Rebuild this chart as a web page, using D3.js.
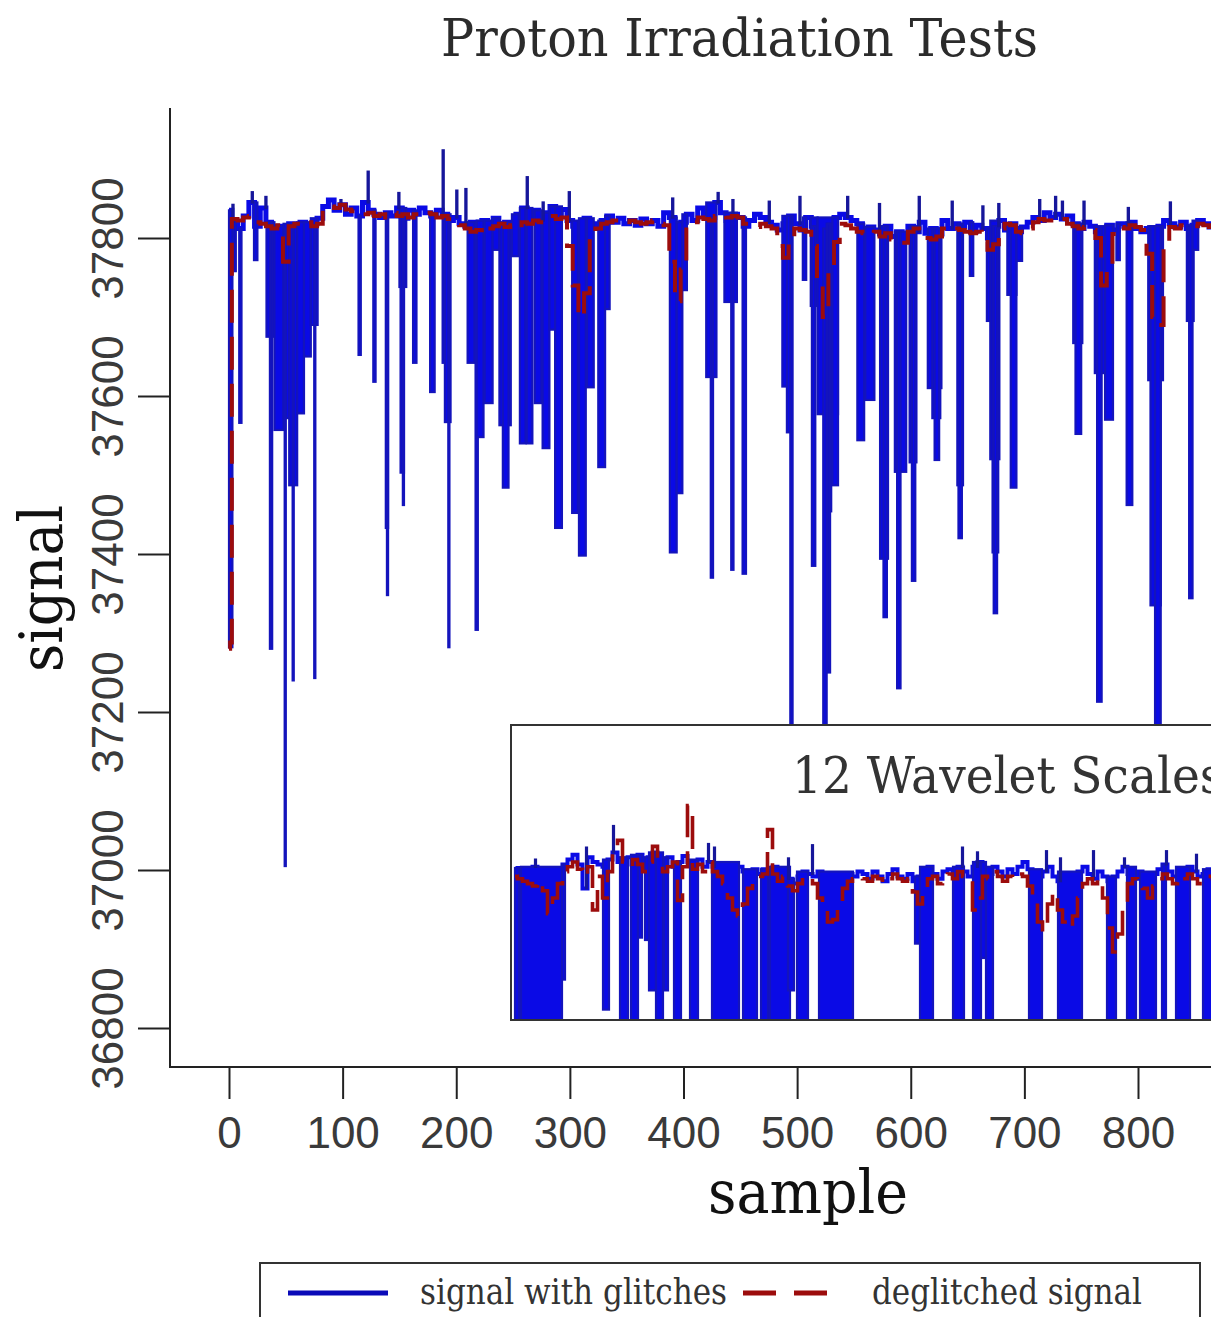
<!DOCTYPE html>
<html><head><meta charset="utf-8">
<script src="https://cdn.jsdelivr.net/npm/d3@7"></script>
<style>body{margin:0;background:#fff}svg{display:block}</style>
</head><body>
<svg id="c" width="1211" height="1317"></svg>
<script>
// ---------------- data ----------------
const xTicks = [0,100,200,300,400,500,600,700,800];
const yTicks = [36800,37000,37200,37400,37600,37800];
const STEP = 5; // samples between consecutive baseline readings

// signal with glitches: quiet level, read every 5 samples (sample 0..870)
const signalBase = [
37835,37820,37812,37828,37845,37815,37838,37820,37810,37815,
37812,37818,37815,37820,37812,37818,37825,37840,37848,37835,
37842,37830,37838,37828,37845,37835,37830,37826,37832,37828,
37838,37825,37835,37830,37838,37832,37828,37835,37830,37822,
37826,37818,37815,37820,37808,37822,37818,37825,37815,37820,
37812,37830,37838,37825,37835,37822,37832,37840,37828,37836,
37822,37815,37810,37825,37818,37812,37822,37828,37820,37825,
37818,37822,37816,37824,37818,37822,37815,37832,37826,37818,
37820,37830,37822,37838,37830,37826,37845,37832,37822,37830,
37826,37815,37822,37830,37826,37820,37816,37810,37818,37828,
37818,37810,37826,37815,37805,37812,37818,37826,37830,37826,
37822,37818,37810,37814,37810,37805,37815,37802,37808,37800,
37815,37808,37820,37806,37812,37805,37822,37812,37818,37814,
37820,37808,37816,37812,37800,37815,37822,37810,37818,37808,
37814,37820,37826,37822,37832,37826,37830,37824,37828,37818,
37812,37820,37815,37808,37812,37816,37810,37818,37815,37820,
37812,37808,37812,37805,37815,37822,37818,37814,37820,37812,
37816,37822,37818,37814,37820];

// glitches: [first sample, width in samples, value]
const glitches = [
[0,3,37282],[4,2,37758],[9,2,37566],[22,3,37772],[33,7,37675],[36,2,37280],
[40,8,37557],[48,5,37572],[53,7,37487],[60,6,37578],[66,6,37650],[72,6,37690],
[49,1,37005],[56,1,37240],[75,1,37243],
[114,2,37652],[127,2,37618],[138,2,37433],[139,1,37348],
[150,6,37738],[151,3,37503],[153,1,37462],[162,3,37642],[177,4,37605],
[188,2,37642],[190,5,37567],[193,1,37282],[210,6,37642],[217,2,37304],[218,6,37548],
[225,7,37591],[232,6,37785],[238,10,37563],[241,5,37484],[249,6,37777],
[256,5,37540],[261,1,37675],[262,5,37540],[269,6,37591],[276,6,37534],[282,5,37684],
[287,6,37433],[302,5,37452],[308,6,37398],[315,6,37611],[325,6,37510],[331,4,37710],
[388,6,37402],[394,5,37477],[399,4,37734],[420,9,37624],[424,2,37370],
[436,11,37719],[442,2,37380],[452,3,37375],
[487,7,37612],[491,4,37554],[494,2,37150],[505,3,37747],[512,6,37714],[513,3,37385],
[518,18,37577],[523,3,37150],[526,4,37454],[527,2,37250],[531,5,37487],
[553,6,37544],[560,8,37595],[573,7,37394],[576,3,37320],[586,10,37504],[588,3,37230],
[599,6,37516],[601,3,37366],[615,12,37610],[619,7,37572],[621,4,37519],
[641,5,37487],[642,3,37420],[652,3,37752],[667,4,37695],[670,8,37520],[672,5,37402],[673,3,37325],
[685,8,37728],[688,5,37484],[693,5,37771],[743,8,37667],[745,5,37552],
[762,9,37629],[764,4,37213],[771,7,37570],[781,3,37772],[790,5,37462],
[809,13,37620],[811,9,37335],[815,5,37150],[843,6,37695],[845,3,37344],[848,5,37785]];

// single-sample upward excursions: [sample, value]
const spikes = [
[3,37842],[20,37858],[32,37852],[98,37848],[122,37884],[149,37857],[188,37911],[200,37860],
[208,37862],[262,37877],[276,37845],[299,37858],[390,37850],[430,37857],[443,37848],[475,37846],
[502,37852],[544,37852],[572,37843],[607,37852],[636,37846],[663,37840],[677,37843],[713,37848],
[727,37852],[733,37846],[752,37846],[791,37838],[828,37845]];

// deglitched signal: first samples, then one reading every 5 samples from sample 5
const deglitchedStart = [[0,37280],[2,37288],[3,37824]];
const deglitched = [
37824,37822,37826,37828,37820,37818,37815,37812,37816,37770,
37815,37818,37816,37820,37815,37818,37832,37840,37838,37842,
37836,37834,37835,37830,37832,37828,37830,37826,37832,37828,
37830,37826,37830,37828,37832,37830,37826,37828,37824,37820,
37816,37812,37808,37810,37805,37812,37815,37818,37814,37816,
37812,37820,37818,37822,37820,37826,37828,37824,37826,37790,
37740,37700,37730,37800,37812,37818,37820,37822,37818,37820,
37822,37820,37818,37820,37822,37818,37816,37770,37720,37760,
37815,37820,37826,37824,37822,37828,37830,37826,37828,37826,
37818,37816,37814,37818,37815,37812,37790,37775,37800,37812,
37810,37808,37790,37740,37700,37760,37795,37818,37816,37812,
37808,37806,37804,37808,37802,37806,37798,37796,37794,37808,
37812,37805,37800,37798,37802,37812,37815,37812,37810,37808,
37806,37808,37795,37785,37792,37812,37818,37816,37808,37806,
37812,37820,37824,37822,37822,37820,37824,37818,37815,37812,
37814,37810,37800,37740,37765,37805,37814,37812,37816,37814,
37810,37780,37700,37690,37790,37814,37812,37816,37814,37815,
37818,37816,37814,37816];

// inset "12 Wavelet Scales": positions 0..700, one reading every 5
const insetBase = [
37822,37825,37820,37818,37826,37823,37819,37816,37812,37815,
37828,37832,37836,37828,37808,37834,37830,37828,37826,37832,
37838,37830,37828,37834,37832,37836,37830,37834,37838,37832,
37828,37834,37826,37830,37835,37830,37828,37832,37826,37830,
37826,37822,37818,37824,37820,37826,37822,37818,37824,37820,
37824,37820,37826,37818,37822,37816,37812,37818,37822,37820,
37818,37822,37816,37814,37818,37812,37816,37820,37818,37822,
37820,37816,37822,37818,37814,37820,37824,37818,37816,37820,
37814,37818,37822,37826,37820,37816,37822,37824,37820,37826,
37822,37818,37826,37830,37824,37820,37826,37822,37818,37824,
37820,37826,37830,37824,37820,37818,37822,37826,37818,37814,
37816,37812,37818,37822,37826,37820,37816,37822,37818,37814,
37818,37822,37826,37820,37816,37822,37818,37814,37820,37824,
37828,37822,37818,37824,37820,37826,37822,37818,37820,37824,37820];
const insetRed = [
37818,37816,37814,37812,37810,37814,37806,37787,37800,37812,
37822,37826,37830,37824,37818,37826,37790,37818,37800,37822,
37840,37848,37830,37826,37832,37828,37822,37830,37843,37828,
37822,37826,37830,37798,37826,37877,37824,37828,37822,37830,
37822,37818,37812,37800,37790,37785,37795,37808,37816,37818,
37820,37857,37820,37814,37818,37810,37806,37812,37818,37816,
37812,37800,37790,37780,37782,37792,37808,37814,37816,37818,
37816,37814,37818,37816,37812,37816,37820,37816,37814,37816,
37805,37795,37806,37816,37818,37812,37818,37820,37816,37822,
37818,37814,37790,37800,37818,37816,37822,37818,37814,37818,
37816,37820,37818,37810,37800,37780,37772,37795,37805,37790,
37780,37775,37785,37800,37812,37816,37812,37816,37800,37775,
37755,37770,37795,37812,37816,37812,37808,37800,37810,37816,
37820,37816,37812,37818,37816,37820,37816,37812,37814,37818,37816];
const insetGlitches = [
[0,4,37500],[4,2,37780],[6,41,37500],[47,3,37732],[88,6,37707],
[105,8,37500],[116,7,37500],[123,4,37767],[130,4,37765],[134,7,37723],[141,7,37500],[149,4,37723],
[159,7,37500],[175,8,37500],[197,27,37500],[228,14,37500],[246,7,37500],[255,20,37500],[273,6,37723],
[282,11,37500],[304,34,37500],[400,5,37762],[405,13,37500],[438,11,37500],
[458,8,37500],[466,5,37750],[471,7,37500],[514,13,37500],[543,24,37500],
[592,9,37500],[612,9,37500],[625,16,37500],[647,4,37500],[661,14,37500],[688,14,37500]];
const insetSpikes = [
[20,37832],[71,37842],[98,37860],[193,37845],[199,37842],[273,37833],[297,37844],[447,37842],
[462,37838],[531,37839],[545,37833],[578,37839],[609,37833],[651,37839],[681,37836]];

const legendLabels = ["signal with glitches","deglitched signal"];

// ---------------- drawing ----------------
const BLUE = "#0a0ae6", BLUE_EDGE = "#1414bc", RED = "#9c0c0c", INK = "#222";
const svg = d3.select("#c");
const x = d3.scaleLinear().domain([0,800]).range([229,1138]);
const y = d3.scaleLinear().domain([36800,37800]).range([1028,238]);

const defs = svg.append("defs");
defs.append("clipPath").attr("id","clipMain").append("rect")
  .attr("x",171).attr("y",100).attr("width",1100).attr("height",966);
defs.append("clipPath").attr("id","clipInset").append("rect")
  .attr("x",512).attr("y",726).attr("width",760).attr("height",293);

function drawSeries(g, xs, ys, base, gl, sp, red, redStart, lineW, redW) {
  const idx = s => Math.max(0, Math.min(base.length-1, Math.round(s/STEP)));
  const topOf = (s, w) => { let m = -Infinity; for (let i = idx(s); i <= idx(s+w); i++) m = Math.max(m, base[i]); return m; };
  const line = d3.line().curve(d3.curveStep).x(d => xs(d[0])).y(d => ys(d[1]));
  g.append("path").datum(base.map((v,i) => [i*STEP, v]))
    .attr("d", line).attr("fill","none").attr("stroke",BLUE).attr("stroke-width",lineW);
  g.append("g").selectAll("rect").data(gl).join("rect")
    .attr("x", d => xs(d[0])).attr("width", d => xs(d[0]+d[1]) - xs(d[0]))
    .attr("y", d => ys(topOf(d[0], d[1])))
    .attr("height", d => ys(d[2]) - ys(topOf(d[0], d[1])))
    .attr("fill", BLUE).attr("stroke", BLUE_EDGE).attr("stroke-width", 2.2);
  g.append("g").selectAll("rect").data(sp).join("rect")
    .attr("x", d => xs(d[0])).attr("width", d => xs(d[0]+1) - xs(d[0]))
    .attr("y", d => ys(d[1])).attr("height", d => ys(base[idx(d[0])]) - ys(d[1]))
    .attr("fill", BLUE).attr("stroke", "#16169a").attr("stroke-width", 2.2);
  const redPts = redStart.concat(red.map((v,i) => [STEP*(i + (redStart.length ? 1 : 0)), v]));
  g.append("path").datum(redPts).attr("d", line)
    .attr("fill","none").attr("stroke",RED).attr("stroke-width",redW)
    .attr("stroke-dasharray","33,14");
}

// main plot
const main = svg.append("g").attr("clip-path","url(#clipMain)");
drawSeries(main, x, y, signalBase, glitches, spikes, deglitched, deglitchedStart, 5, 4);

// inset
svg.append("rect").attr("x",511).attr("y",725).attr("width",760).attr("height",295)
  .attr("fill","#fff").attr("stroke","#333").attr("stroke-width",2);
const xi = d3.scaleLinear().domain([0,700]).range([515,1215]);
const yi = d3.scaleLinear().domain([37700,37900]).range([1018,778]);
const inset = svg.append("g").attr("clip-path","url(#clipInset)");
drawSeries(inset, xi, yi, insetBase, insetGlitches, insetSpikes, insetRed, [], 4, 3.6);
svg.append("text").attr("x",792).attr("y",793)
  .attr("font-family","'DejaVu Serif', serif").attr("font-size",50).attr("fill","#333")
  .attr("textLength",432).attr("lengthAdjust","spacingAndGlyphs").text("12 Wavelet Scales");

// frame lines (L shape)
svg.append("line").attr("x1",170).attr("x2",170).attr("y1",108).attr("y2",1068).attr("stroke",INK).attr("stroke-width",2);
svg.append("line").attr("x1",169).attr("x2",1211).attr("y1",1067).attr("y2",1067).attr("stroke",INK).attr("stroke-width",2);

// axes
const xAxis = svg.append("g").attr("transform","translate(0,1067)")
  .call(d3.axisBottom(x).tickValues(xTicks).tickSize(32).tickPadding(18).tickFormat(d3.format("d")));
xAxis.select(".domain").remove();
xAxis.selectAll("line").attr("stroke",INK).attr("stroke-width",2);
xAxis.selectAll("text").attr("font-family","'Liberation Sans', Arial, sans-serif")
  .attr("font-size",44).attr("fill","#3a3a3a");

const yAxis = svg.append("g").attr("transform","translate(170,0)")
  .call(d3.axisLeft(y).tickValues(yTicks).tickSize(32).tickFormat(d3.format("d")));
yAxis.select(".domain").remove();
yAxis.selectAll("line").attr("stroke",INK).attr("stroke-width",2);
yAxis.selectAll("text").attr("transform","rotate(-90)").attr("x",0).attr("y",-47).attr("dy",0)
  .attr("text-anchor","middle").attr("font-family","'Liberation Sans', Arial, sans-serif")
  .attr("font-size",44).attr("fill","#3a3a3a");

// titles
svg.append("text").attr("x",441).attr("y",56)
  .attr("font-family","'DejaVu Serif', serif").attr("font-size",52).attr("fill","#2b2b2b")
  .attr("textLength",597).attr("lengthAdjust","spacingAndGlyphs").text("Proton Irradiation Tests");
svg.append("text").attr("x",708).attr("y",1213)
  .attr("font-family","'DejaVu Serif', serif").attr("font-size",60).attr("fill","#111")
  .attr("textLength",200).attr("lengthAdjust","spacingAndGlyphs").text("sample");
svg.append("text").attr("transform","translate(62,672) rotate(-90)")
  .attr("font-family","'DejaVu Serif', serif").attr("font-size",60).attr("fill","#111")
  .attr("textLength",167).attr("lengthAdjust","spacingAndGlyphs").text("signal");

// legend
svg.append("rect").attr("x",260).attr("y",1263).attr("width",940).attr("height",90)
  .attr("fill","none").attr("stroke","#333").attr("stroke-width",2);
svg.append("line").attr("x1",288).attr("x2",388).attr("y1",1293).attr("y2",1293)
  .attr("stroke","#0a0ab8").attr("stroke-width",5);
svg.append("line").attr("x1",743).attr("x2",828).attr("y1",1293).attr("y2",1293)
  .attr("stroke",RED).attr("stroke-width",5).attr("stroke-dasharray","33,18");
svg.append("text").attr("x",420).attr("y",1304)
  .attr("font-family","'DejaVu Serif', serif").attr("font-size",35).attr("fill","#333")
  .attr("textLength",307).attr("lengthAdjust","spacingAndGlyphs").text(legendLabels[0]);
svg.append("text").attr("x",872).attr("y",1304)
  .attr("font-family","'DejaVu Serif', serif").attr("font-size",35).attr("fill","#333")
  .attr("textLength",270).attr("lengthAdjust","spacingAndGlyphs").text(legendLabels[1]);
</script>
</body></html>
